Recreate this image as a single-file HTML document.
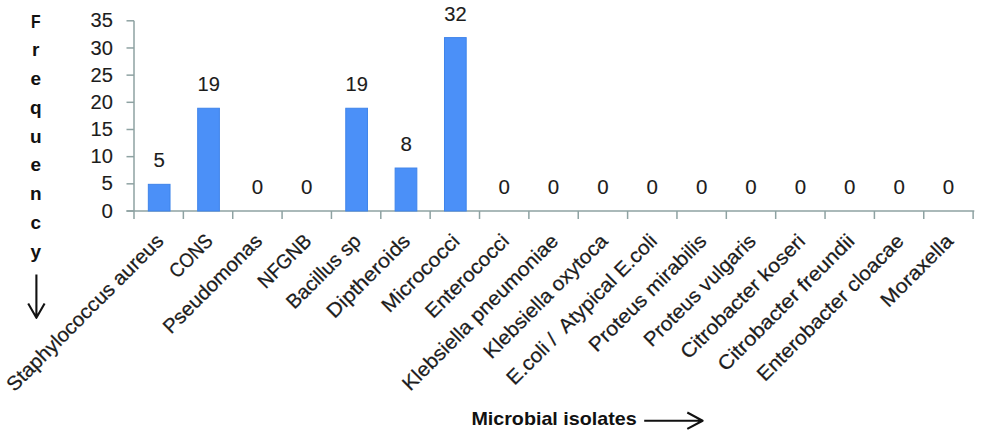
<!DOCTYPE html>
<html><head><meta charset="utf-8"><style>
html,body{margin:0;padding:0;background:#fff;}
svg{display:block;}
text{white-space:pre;}
.t{font-family:"Liberation Sans",sans-serif;font-size:20px;fill:#1c1c1c;stroke:#1c1c1c;stroke-width:0.25px;}
.d{font-size:20.5px;stroke-width:0.12px;}
.b{font-family:"Liberation Sans",sans-serif;font-size:19px;font-weight:bold;fill:#111;}
.b2{font-family:"Liberation Sans",sans-serif;font-size:18.5px;font-weight:bold;fill:#111;}
</style></head><body>
<svg width="986" height="436" viewBox="0 0 986 436">
<line x1="134.0" y1="20.8" x2="134.0" y2="211.0" stroke="#8ea2a2" stroke-width="1.5"/>
<line x1="126.5" y1="211.00" x2="134.0" y2="211.00" stroke="#8ea2a2" stroke-width="1.5"/>
<text x="113" y="217.60" text-anchor="end" class="t d">0</text>
<line x1="126.5" y1="183.83" x2="134.0" y2="183.83" stroke="#8ea2a2" stroke-width="1.5"/>
<text x="113" y="190.43" text-anchor="end" class="t d">5</text>
<line x1="126.5" y1="156.66" x2="134.0" y2="156.66" stroke="#8ea2a2" stroke-width="1.5"/>
<text x="113" y="163.26" text-anchor="end" class="t d" textLength="22.4" lengthAdjust="spacingAndGlyphs">10</text>
<line x1="126.5" y1="129.49" x2="134.0" y2="129.49" stroke="#8ea2a2" stroke-width="1.5"/>
<text x="113" y="136.09" text-anchor="end" class="t d" textLength="22.4" lengthAdjust="spacingAndGlyphs">15</text>
<line x1="126.5" y1="102.31" x2="134.0" y2="102.31" stroke="#8ea2a2" stroke-width="1.5"/>
<text x="113" y="108.91" text-anchor="end" class="t d" textLength="22.4" lengthAdjust="spacingAndGlyphs">20</text>
<line x1="126.5" y1="75.14" x2="134.0" y2="75.14" stroke="#8ea2a2" stroke-width="1.5"/>
<text x="113" y="81.74" text-anchor="end" class="t d" textLength="22.4" lengthAdjust="spacingAndGlyphs">25</text>
<line x1="126.5" y1="47.97" x2="134.0" y2="47.97" stroke="#8ea2a2" stroke-width="1.5"/>
<text x="113" y="54.57" text-anchor="end" class="t d" textLength="22.4" lengthAdjust="spacingAndGlyphs">30</text>
<line x1="126.5" y1="20.80" x2="134.0" y2="20.80" stroke="#8ea2a2" stroke-width="1.5"/>
<text x="113" y="27.40" text-anchor="end" class="t d" textLength="22.4" lengthAdjust="spacingAndGlyphs">35</text>
<line x1="126.5" y1="211.0" x2="974.3" y2="211.0" stroke="#8ea2a2" stroke-width="1.5"/>
<line x1="134.00" y1="211.0" x2="134.00" y2="219" stroke="#8ea2a2" stroke-width="1.5"/>
<line x1="183.36" y1="211.0" x2="183.36" y2="219" stroke="#8ea2a2" stroke-width="1.5"/>
<line x1="232.72" y1="211.0" x2="232.72" y2="219" stroke="#8ea2a2" stroke-width="1.5"/>
<line x1="282.08" y1="211.0" x2="282.08" y2="219" stroke="#8ea2a2" stroke-width="1.5"/>
<line x1="331.44" y1="211.0" x2="331.44" y2="219" stroke="#8ea2a2" stroke-width="1.5"/>
<line x1="380.80" y1="211.0" x2="380.80" y2="219" stroke="#8ea2a2" stroke-width="1.5"/>
<line x1="430.16" y1="211.0" x2="430.16" y2="219" stroke="#8ea2a2" stroke-width="1.5"/>
<line x1="479.52" y1="211.0" x2="479.52" y2="219" stroke="#8ea2a2" stroke-width="1.5"/>
<line x1="528.88" y1="211.0" x2="528.88" y2="219" stroke="#8ea2a2" stroke-width="1.5"/>
<line x1="578.24" y1="211.0" x2="578.24" y2="219" stroke="#8ea2a2" stroke-width="1.5"/>
<line x1="627.60" y1="211.0" x2="627.60" y2="219" stroke="#8ea2a2" stroke-width="1.5"/>
<line x1="676.96" y1="211.0" x2="676.96" y2="219" stroke="#8ea2a2" stroke-width="1.5"/>
<line x1="726.32" y1="211.0" x2="726.32" y2="219" stroke="#8ea2a2" stroke-width="1.5"/>
<line x1="775.68" y1="211.0" x2="775.68" y2="219" stroke="#8ea2a2" stroke-width="1.5"/>
<line x1="825.04" y1="211.0" x2="825.04" y2="219" stroke="#8ea2a2" stroke-width="1.5"/>
<line x1="874.40" y1="211.0" x2="874.40" y2="219" stroke="#8ea2a2" stroke-width="1.5"/>
<line x1="923.76" y1="211.0" x2="923.76" y2="219" stroke="#8ea2a2" stroke-width="1.5"/>
<line x1="973.12" y1="211.0" x2="973.12" y2="219" stroke="#8ea2a2" stroke-width="1.5"/>
<rect x="148.33" y="184.33" width="21.7" height="26.67" fill="#4b90f8" stroke="#3f84ea" stroke-width="1"/>
<text x="159.28" y="167.23" text-anchor="middle" class="t d">5</text>
<rect x="197.69" y="108.25" width="21.7" height="102.75" fill="#4b90f8" stroke="#3f84ea" stroke-width="1"/>
<text x="208.64" y="91.15" text-anchor="middle" class="t d" textLength="22.4" lengthAdjust="spacingAndGlyphs">19</text>
<text x="257.40" y="194.40" text-anchor="middle" class="t d">0</text>
<text x="306.76" y="194.40" text-anchor="middle" class="t d">0</text>
<rect x="345.77" y="108.25" width="21.7" height="102.75" fill="#4b90f8" stroke="#3f84ea" stroke-width="1"/>
<text x="356.72" y="91.15" text-anchor="middle" class="t d" textLength="22.4" lengthAdjust="spacingAndGlyphs">19</text>
<rect x="395.13" y="168.03" width="21.7" height="42.97" fill="#4b90f8" stroke="#3f84ea" stroke-width="1"/>
<text x="406.08" y="150.93" text-anchor="middle" class="t d">8</text>
<rect x="444.49" y="37.60" width="21.7" height="173.40" fill="#4b90f8" stroke="#3f84ea" stroke-width="1"/>
<text x="455.44" y="20.50" text-anchor="middle" class="t d" textLength="22.4" lengthAdjust="spacingAndGlyphs">32</text>
<text x="504.20" y="194.40" text-anchor="middle" class="t d">0</text>
<text x="553.56" y="194.40" text-anchor="middle" class="t d">0</text>
<text x="602.92" y="194.40" text-anchor="middle" class="t d">0</text>
<text x="652.28" y="194.40" text-anchor="middle" class="t d">0</text>
<text x="701.64" y="194.40" text-anchor="middle" class="t d">0</text>
<text x="751.00" y="194.40" text-anchor="middle" class="t d">0</text>
<text x="800.36" y="194.40" text-anchor="middle" class="t d">0</text>
<text x="849.72" y="194.40" text-anchor="middle" class="t d">0</text>
<text x="899.08" y="194.40" text-anchor="middle" class="t d">0</text>
<text x="948.44" y="194.40" text-anchor="middle" class="t d">0</text>
<text x="164.68" y="242.30" text-anchor="end" class="t" textLength="212.4" lengthAdjust="spacingAndGlyphs" transform="rotate(-45 164.68 242.30)">Staphylococcus aureus</text>
<text x="214.04" y="242.30" text-anchor="end" class="t" textLength="52.1" lengthAdjust="spacingAndGlyphs" transform="rotate(-45 214.04 242.30)">CONS</text>
<text x="263.40" y="242.30" text-anchor="end" class="t" textLength="130.8" lengthAdjust="spacingAndGlyphs" transform="rotate(-45 263.40 242.30)">Pseudomonas</text>
<text x="312.76" y="242.30" text-anchor="end" class="t" textLength="66.6" lengthAdjust="spacingAndGlyphs" transform="rotate(-45 312.76 242.30)">NFGNB</text>
<text x="362.12" y="242.30" text-anchor="end" class="t" textLength="95.9" lengthAdjust="spacingAndGlyphs" transform="rotate(-45 362.12 242.30)">Bacillus sp</text>
<text x="411.48" y="242.30" text-anchor="end" class="t" textLength="108.7" lengthAdjust="spacingAndGlyphs" transform="rotate(-45 411.48 242.30)">Diptheroids</text>
<text x="460.84" y="242.30" text-anchor="end" class="t" textLength="100.8" lengthAdjust="spacingAndGlyphs" transform="rotate(-45 460.84 242.30)">Micrococci</text>
<text x="510.20" y="242.30" text-anchor="end" class="t" textLength="108.7" lengthAdjust="spacingAndGlyphs" transform="rotate(-45 510.20 242.30)">Enterococci</text>
<text x="559.56" y="242.30" text-anchor="end" class="t" textLength="211.2" lengthAdjust="spacingAndGlyphs" transform="rotate(-45 559.56 242.30)">Klebsiella pneumoniae</text>
<text x="608.92" y="242.30" text-anchor="end" class="t" textLength="166.0" lengthAdjust="spacingAndGlyphs" transform="rotate(-45 608.92 242.30)">Klebsiella oxytoca</text>
<text x="658.28" y="242.30" text-anchor="end" class="t" textLength="203.2" lengthAdjust="spacingAndGlyphs" transform="rotate(-45 658.28 242.30)">E.coli /  Atypical E.coli</text>
<text x="707.64" y="242.30" text-anchor="end" class="t" textLength="156.7" lengthAdjust="spacingAndGlyphs" transform="rotate(-45 707.64 242.30)">Proteus mirabilis</text>
<text x="757.00" y="242.30" text-anchor="end" class="t" textLength="149.0" lengthAdjust="spacingAndGlyphs" transform="rotate(-45 757.00 242.30)">Proteus vulgaris</text>
<text x="806.36" y="242.30" text-anchor="end" class="t" textLength="166.6" lengthAdjust="spacingAndGlyphs" transform="rotate(-45 806.36 242.30)">Citrobacter koseri</text>
<text x="855.72" y="242.30" text-anchor="end" class="t" textLength="183.7" lengthAdjust="spacingAndGlyphs" transform="rotate(-45 855.72 242.30)">Citrobacter freundii</text>
<text x="905.08" y="242.30" text-anchor="end" class="t" textLength="198.0" lengthAdjust="spacingAndGlyphs" transform="rotate(-45 905.08 242.30)">Enterobacter cloacae</text>
<text x="954.44" y="242.30" text-anchor="end" class="t" textLength="93.2" lengthAdjust="spacingAndGlyphs" transform="rotate(-45 954.44 242.30)">Moraxella</text>
<text x="35.7" y="27.50" text-anchor="middle" class="b" textLength="9.6" lengthAdjust="spacingAndGlyphs">F</text>
<text x="35.7" y="56.26" text-anchor="middle" class="b">r</text>
<text x="35.7" y="85.02" text-anchor="middle" class="b">e</text>
<text x="35.7" y="113.78" text-anchor="middle" class="b">q</text>
<text x="35.7" y="142.54" text-anchor="middle" class="b">u</text>
<text x="35.7" y="171.30" text-anchor="middle" class="b">e</text>
<text x="35.7" y="200.06" text-anchor="middle" class="b">n</text>
<text x="35.7" y="228.82" text-anchor="middle" class="b">c</text>
<text x="35.7" y="257.58" text-anchor="middle" class="b">y</text>
<path d="M36.4 274.4 V317.5 M28.2 303.5 L36.4 317.8 L44.6 303.5" fill="none" stroke="#111" stroke-width="2.1" stroke-linejoin="round"/>
<text x="471.4" y="425" class="b2" textLength="165.2" lengthAdjust="spacingAndGlyphs">Microbial isolates</text>
<path d="M644.2 420.7 H702.3 M687.3 412.5 L702.6 420.7 L687.3 428.9" fill="none" stroke="#111" stroke-width="2.1" stroke-linejoin="round"/>
</svg>
</body></html>
